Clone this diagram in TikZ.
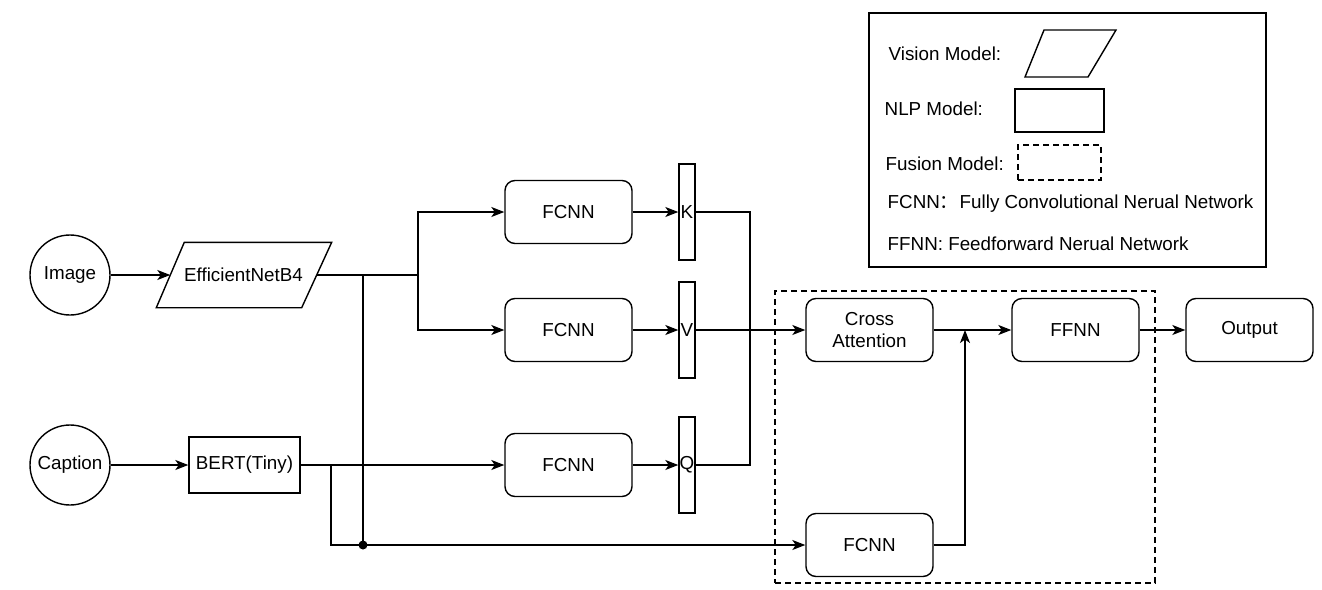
\documentclass[tikz,border=0pt]{standalone}
\usepackage{fontspec}
\setmainfont{Liberation Sans}
\newfontfamily\cjk{Noto Sans CJK SC}
\usetikzlibrary{arrows.meta,calc}
\begin{document}
\begin{tikzpicture}[x=1pt,y=-1pt,
  font=\fontsize{18.8}{22}\selectfont,
  line width=1.4pt,
  arr/.style={-{Stealth[length=13pt,width=10pt,inset=3.5pt]}},
  rbox/.style={draw,rounded corners=10pt,minimum width=127pt,minimum height=63pt,inner sep=0pt,align=center},
  bar/.style={draw,minimum width=16pt,minimum height=96pt,inner sep=0pt},
  circ/.style={draw,circle,minimum size=80pt,inner sep=0pt},
  fus/.style={draw,dash pattern=on 6pt off 4pt,line width=1.3pt},
  lbl/.style={anchor=west,inner sep=0pt}
]
\useasboundingbox (0,0) rectangle (1322,589);

% inputs
\node[circ] (img) at (70,275) {Image};
\node[circ] (cap) at (70,465) {Caption};

% EfficientNetB4 parallelogram
\node[minimum width=145pt,minimum height=64pt,inner sep=0pt] (eff) at (243.5,275) {EfficientNetB4};
\draw ([xshift=14pt]eff.north west) -- ([xshift=15pt]eff.north east) -- ([xshift=-15pt]eff.south east) -- ([xshift=-14pt]eff.south west) -- cycle;

% BERT
\node[draw,minimum width=111pt,minimum height=56pt,inner sep=0pt] (bert) at (244.5,465) {BERT(Tiny)};

% FCNN boxes
\node[rbox] (f1) at (568.5,212) {FCNN};
\node[rbox] (f2) at (568.5,330) {FCNN};
\node[rbox] (f3) at (568.5,465) {FCNN};

% K V Q
\node[bar] (kk) at (687,212) {K};
\node[bar] (vv) at (687,330) {V};
\node[bar] (qq) at (687,465) {Q};

% fusion
\node[fus,minimum width=380pt,minimum height=292pt] (fusion) at (965,437) {};
\node[rbox] (ca) at (869.5,330) {Cross\\Attention};
\node[rbox] (f4) at (869.5,545) {FCNN};
\node[rbox] (ffnn) at (1075.5,330) {FFNN};
\node[rbox] (out) at (1249.5,330) {Output};

% coordinates
\coordinate (s1) at (418,275);
\coordinate (j1) at (363,275);
\coordinate (dot) at (363,545);
\coordinate (b1) at (331,465);
\coordinate (kq1) at (750,212);
\coordinate (kq2) at (750,465);
\coordinate (mg) at (965,330);

% connectors
\draw[arr] (img) -- (eff.west);
\draw[arr] (cap) -- (bert.west);
\draw (eff.east) -- (s1);
\draw[arr] (s1) |- (f1.west);
\draw[arr] (s1) |- (f2.west);
\draw (j1) -- (dot);
\draw[arr] (bert.east) -- (f3.west);
\draw[arr] (b1) |- (f4.west);
\fill (dot) circle (4.5pt);
\draw[arr] (f1) -- (kk.west);
\draw[arr] (f2) -- (vv.west);
\draw[arr] (f3) -- (qq.west);
\draw (kk.east) -- (kq1) -- (kq2) -- (qq.east);
\draw[arr] (vv.east) -- (ca.west);
\draw[arr] (ca.east) -- (ffnn.west);
\draw[arr] (f4.east) -| (mg);
\draw[arr] (ffnn.east) -- (out.west);

% legend
\node[draw,minimum width=397pt,minimum height=254pt] (leg) at (1067.5,140) {};
\node[lbl] (lv) at (888,54) {Vision Model:};
\draw (1044,30) -- (1116,30) -- (1088,77) -- (1025,77) -- cycle;
\node[lbl] (ln) at (884,109) {NLP Model:};
\node[draw,minimum width=89pt,minimum height=43pt] (lnb) at (1059.5,110.5) {};
\node[lbl] (lf) at (885,164) {Fusion Model:};
\node[fus,minimum width=83pt,minimum height=35pt] (lfb) at (1059.5,162.5) {};
\node[lbl] (lc) at (887,204) {FCNN{\cjk ：}\hspace{1pt}Fully Convolutional Nerual Network};
\node[lbl] (lff) at (887,244) {FFNN: Feedforward Nerual Network};
\end{tikzpicture}
\end{document}
